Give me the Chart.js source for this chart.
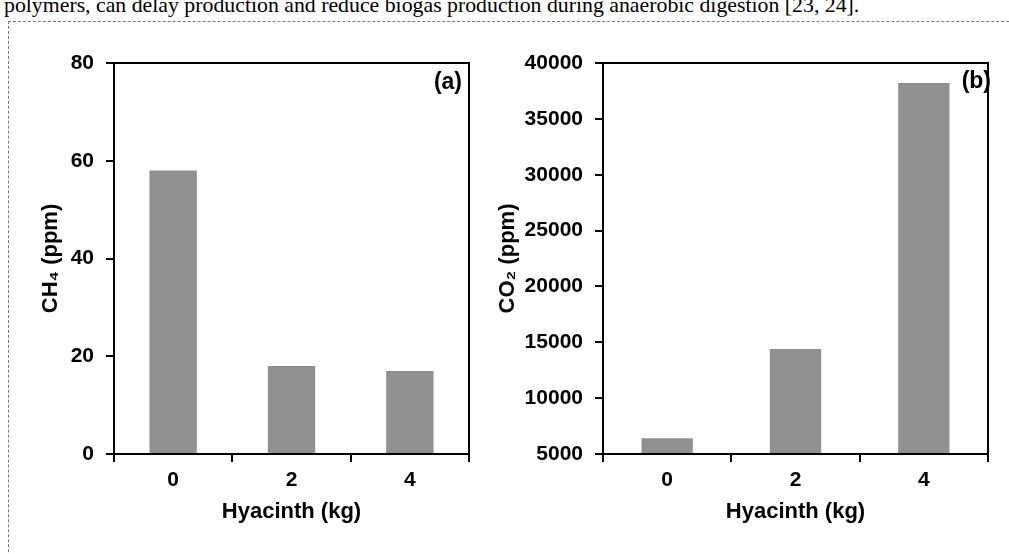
<!DOCTYPE html>
<html><head><meta charset="utf-8">
<script src="https://cdn.jsdelivr.net/npm/chart.js@4.4.1/dist/chart.umd.min.js"></script>
<style>
html,body{margin:0;padding:0;background:#fff;width:1009px;height:554px;overflow:hidden;}
body{position:relative;}
#para{position:absolute;left:4px;top:-5px;font-family:"Liberation Serif",serif;font-size:21.8px;line-height:20px;white-space:nowrap;color:#000;}
#frame{position:absolute;left:8px;top:21px;width:1100px;height:600px;border-left:1px dashed #7a7a7a;border-top:1px dashed #7a7a7a;}
canvas{position:absolute;top:0;}
#ca{left:0;}
#cb{left:480px;}
</style></head>
<body>
<div id="para">polymers, can delay production and reduce biogas production during anaerobic digestion [23, 24].</div>
<div id="frame"></div>
<canvas id="ca" width="500" height="554"></canvas>
<canvas id="cb" width="529" height="554"></canvas>
<script>
const categories = ['0', '2', '4'];
const ch4Values = [58, 18, 17];
const co2Values = [6400, 14400, 38200];
const ch4Range = {min: 0, max: 80, step: 20};
const co2Range = {min: 5000, max: 40000, step: 5000};
const xTitle = 'Hyacinth (kg)';
const ch4Title = 'CH\u2084 (ppm)';
const co2Title = 'CO\u2082 (ppm)';

const FONT = '"Liberation Sans", Arial, sans-serif';

const framePlugin = {
  id: 'frame',
  afterDraw(chart, args, opts) {
    const {ctx, chartArea: a} = chart;
    ctx.save();
    ctx.fillStyle = '#000';
    ctx.font = 'bold 23px ' + FONT;
    ctx.textAlign = 'right';
    ctx.textBaseline = 'middle';
    ctx.fillText(opts.label, a.right + opts.dx, a.top + opts.dy);
    ctx.lineWidth = 2;
    ctx.strokeStyle = '#000';
    ctx.strokeRect(a.left, a.top, a.right - a.left, a.bottom - a.top);
    ctx.restore();
  }
};

function makeChart(id, values, range, yTitle, g) {
  new Chart(document.getElementById(id), {
    type: 'bar',
    data: {labels: categories, datasets: [{data: values, backgroundColor: '#909090', borderWidth: 0, barPercentage: 0.4, categoryPercentage: 1}]},
    options: {
      responsive: false, animation: false, events: [],
      layout: {padding: {top: g.top, right: g.right, left: 0, bottom: 0}},
      plugins: {legend: {display: false}, tooltip: {enabled: false}, frame: {label: g.label, dx: g.dx, dy: g.dy}},
      scales: {
        x: {
          grid: {display: true, drawOnChartArea: false, drawTicks: true, tickLength: 8, color: '#000', lineWidth: 2, offset: true},
          border: {display: true, color: '#000', width: 2},
          ticks: {color: '#000', padding: 6, font: {family: FONT, size: 21, weight: 'bold'}},
          title: {display: true, text: xTitle, color: '#000', padding: {top: 0, bottom: 29}, font: {family: FONT, size: 22, weight: 'bold'}},
          afterFit(s) { s.height = g.xh; }
        },
        y: {
          min: range.min, max: range.max,
          grid: {display: true, drawOnChartArea: false, drawTicks: true, tickLength: 8, color: '#000', lineWidth: 2},
          border: {display: true, color: '#000', width: 2},
          ticks: {stepSize: range.step, color: '#000', padding: 12, font: {family: FONT, size: 21, weight: 'bold'},
                  callback: v => String(v)},
          title: {display: true, text: yTitle, color: '#000', padding: {top: g.ytp, bottom: 0}, font: {family: FONT, size: 22, weight: 'bold'}},
          afterFit(s) { s.width = g.yw; }
        }
      }
    },
    plugins: [framePlugin]
  });
}

makeChart('ca', ch4Values, ch4Range, ch4Title, {top: 63, right: 31, xh: 100, yw: 114, ytp: 38, label: '(a)', dx: -7, dy: 20});
makeChart('cb', co2Values, co2Range, co2Title, {top: 63, right: 21, xh: 100, yw: 123, ytp: 15, label: '(b)', dx: 3, dy: 19});
</script>
</body></html>
